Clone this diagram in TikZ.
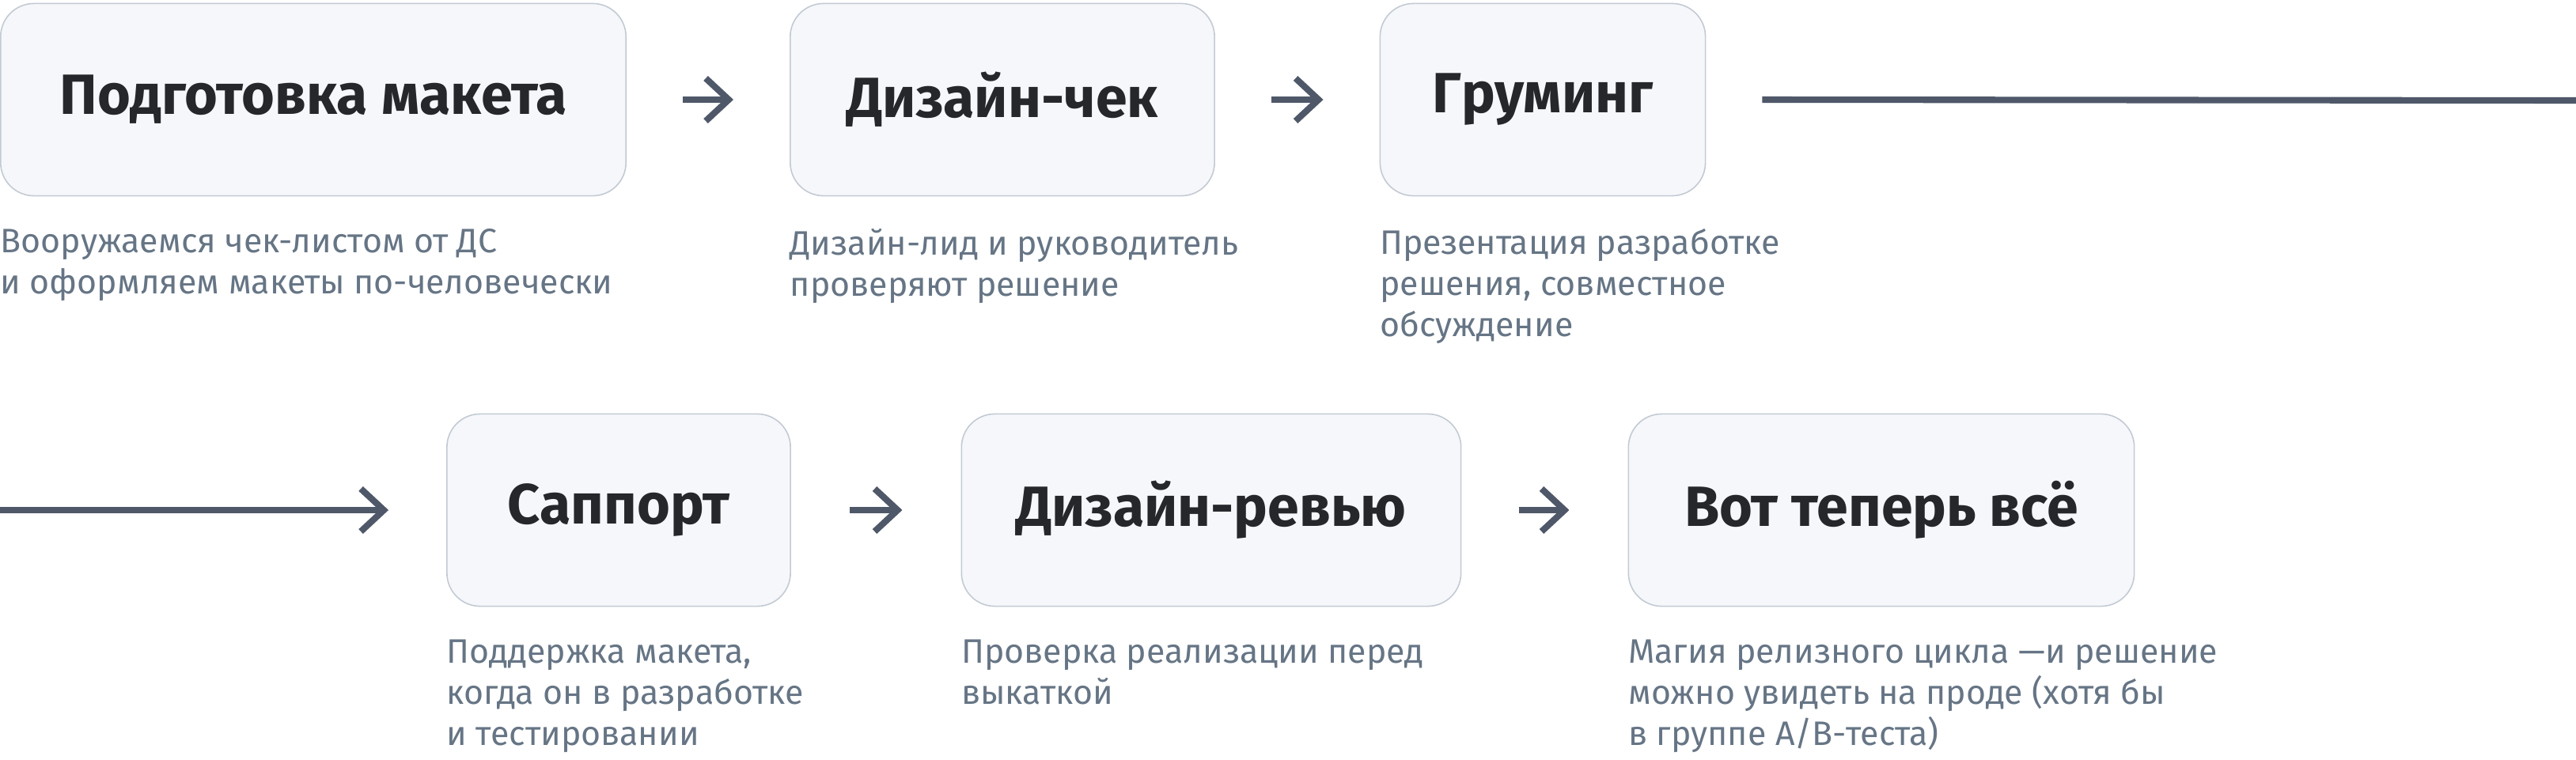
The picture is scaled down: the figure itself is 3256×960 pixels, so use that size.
\documentclass[tikz,border=0pt]{standalone}
\usepackage{fontspec}
\setmainfont{Fira Sans}
\usetikzlibrary{arrows.meta}
\definecolor{stagefill}{HTML}{F5F7FA}
\definecolor{stageline}{HTML}{C3CAD4}
\definecolor{titleink}{HTML}{25272B}
\definecolor{noteink}{HTML}{667585}
\definecolor{flowink}{HTML}{4F5869}
\begin{document}
\begin{tikzpicture}[x=0.01cm,y=-0.01cm,
    stage/.style={draw=stageline,line width=0.45pt,fill=stagefill,rounded corners=0.42cm,
      minimum height=2.43cm,inner sep=0pt,text=titleink,font=\fontsize{20.4}{24}\selectfont\bfseries},
    note/.style={anchor=north west,inner sep=0pt,align=left,text=noteink,
      font=\fontsize{12.2}{14.8}\selectfont},
    flow/.style={draw=flowink,line width=2.3pt,-{Straight Barb[length=0.29cm,width=0.54cm,line width=2.3pt]}},
    link/.style={draw=flowink,line width=2.3pt}]
\useasboundingbox (0,0) rectangle (3256,960);
                                \node[stage,minimum width=7.9cm] (s1) at (396,126){Подготовка макета};
                                \node[stage,minimum width=5.36cm] (s2) at (1267,126){Дизайн-чек};
                                \node[stage,minimum width=4.11cm] (s3) at (1950,126){Груминг};
                                \node[stage,minimum width=4.34cm] (s4) at (782,645){Саппорт};
                                \node[stage,minimum width=6.31cm] (s5) at (1531,645){Дизайн-ревью};
                                \node[stage,minimum width=6.39cm] (s6) at (2378,645){Вот теперь всё};
                                \node[note] (n1) at ([yshift=-0.40cm]s1.south west){Вооружаемся чек-листом от ДС\\и оформляем макеты по-человечески};
                                \node[note] (n2) at ([yshift=-0.40cm]s2.south west){Дизайн-лид и руководитель\\проверяют решение};
                                \node[note] (n3) at ([yshift=-0.40cm]s3.south west){Презентация разработке\\решения, совместное\\обсуждение};
                                \node[note] (n4) at ([yshift=-0.41cm]s4.south west){Поддержка макета,\\когда он в разработке\\и тестировании};
                                \node[note] (n5) at ([yshift=-0.41cm]s5.south west){Проверка реализации перед\\выкаткой};
                                \node[note] (n6) at ([yshift=-0.41cm]s6.south west){Магия релизного цикла —и решение\\можно увидеть на проде (хотя бы\\в группе A/B-теста)};
                                \coordinate (wrapR) at (3256,127);
                                \coordinate (wrapL) at (0,645);
                                \draw[flow] ([xshift=0.71cm]s1.east) -- ([xshift=-0.71cm]s2.west);
                                \draw[flow] ([xshift=0.71cm]s2.east) -- ([xshift=-0.71cm]s3.west);
                                \draw[link] ([xshift=0.71cm]s3.east) -- (wrapR);
                                \draw[flow] (wrapL) -- ([xshift=-0.73cm]s4.west);
                                \draw[flow] ([xshift=0.74cm]s4.east) -- ([xshift=-0.74cm]s5.west);
                                \draw[flow] ([xshift=0.72cm]s5.east) -- ([xshift=-0.74cm]s6.west);
					\end{tikzpicture}
\end{document}
